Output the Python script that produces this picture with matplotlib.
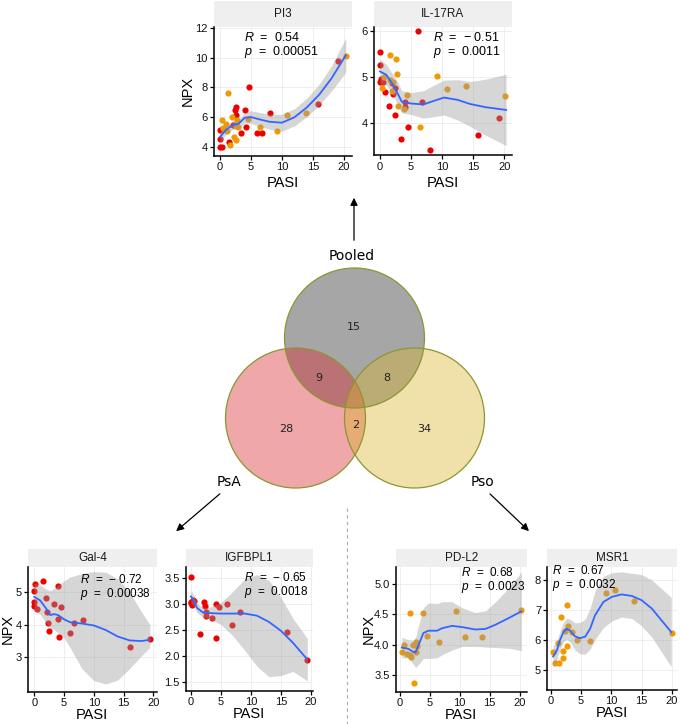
import matplotlib
matplotlib.use("Agg")
import matplotlib.pyplot as plt
from matplotlib.patches import Circle, Rectangle, FancyArrowPatch

plt.rcParams["font.family"] = "Liberation Sans"
plt.rcParams["mathtext.fontset"] = "custom"
plt.rcParams["mathtext.it"] = "Liberation Sans:italic"
plt.rcParams["mathtext.rm"] = "Liberation Sans"

W, H = 680, 724
RED = "#ee0000"
ORANGE = "#ee9a00"

# ---- pooled panels (red = PsA, orange = Pso) ----
pi3_red_x = [0, 0.25, 0, 0, 1.5, 2.4, 2.6, 2.5, 4.05, 4.6, 4.2, 3.4, 5.9, 6.7, 8.1, 15.8, 19.1, 2.1]
pi3_red_y = [3.96, 4.0, 4.5, 5.1, 4.35, 6.45, 6.7, 6.15, 6.45, 8.05, 5.35, 4.9, 4.95, 4.95, 6.27, 6.85, 9.75, 5.45]
pi3_or_x = [1.35, 0.25, 0.55, 1.9, 2.25, 2.5, 1.6, 2.8, 4.45, 6.4, 9.2, 10.8, 13.8, 20.3, 1.2, 2.9, 0.9, 2.6]
pi3_or_y = [7.6, 5.8, 5.25, 6.0, 4.65, 4.45, 4.1, 5.8, 5.85, 5.3, 5.05, 6.15, 6.3, 10.1, 5.05, 5.35, 5.5, 5.4]
pi3_fit_x = [0, 1, 2, 3, 4, 5, 6, 8, 10, 12, 14, 16, 18, 20.3]
pi3_fit_y = [4.66, 5.15, 5.45, 5.55, 5.95, 6.0, 5.88, 5.68, 5.62, 5.98, 6.64, 7.5, 8.6, 10.15]
pi3_fit_lo = [4.3, 4.87, 5.17, 5.25, 5.6, 5.58, 5.42, 5.18, 5.05, 5.4, 6.02, 6.8, 7.75, 9.0]
pi3_fit_hi = [5.02, 5.43, 5.73, 5.85, 6.3, 6.42, 6.34, 6.18, 6.19, 6.56, 7.26, 8.2, 9.45, 11.3]

il17_red_x = [6.05, 0, 0, 0, 0.15, 0.5, 0.8, 2.1, 2.0, 2.4, 4.0, 4.1, 6.7, 1.5, 2.45, 4.55, 3.4, 8.1, 15.8, 19.1]
il17_red_y = [6.0, 5.55, 5.26, 4.88, 4.95, 4.9, 4.68, 4.63, 4.86, 4.75, 4.45, 4.34, 4.45, 4.36, 4.17, 3.9, 3.64, 3.41, 3.74, 4.11]
il17_or_x = [1.6, 2.6, 2.7, 0.27, 1.6, 2.1, 1.9, 4.4, 2.85, 3.9, 6.4, 9.2, 10.8, 13.8, 20.2, 0.6]
il17_or_y = [5.48, 5.4, 5.07, 4.76, 4.93, 4.89, 4.69, 4.6, 4.36, 4.29, 3.91, 5.02, 4.73, 4.81, 4.58, 5.0]
il17_fit_x = [0, 1, 2, 3, 3.5, 5, 7, 8.5, 10.3, 12.5, 14.5, 17, 20.3]
il17_fit_y = [5.12, 5.05, 4.85, 4.6, 4.46, 4.42, 4.4, 4.47, 4.55, 4.5, 4.41, 4.34, 4.28]
il17_fit_lo = [4.86, 4.82, 4.63, 4.35, 4.22, 4.18, 4.1, 4.13, 4.17, 4.06, 3.92, 3.73, 3.5]
il17_fit_hi = [5.38, 5.28, 5.07, 4.85, 4.7, 4.66, 4.7, 4.81, 4.93, 4.94, 4.9, 4.95, 5.06]

# ---- PsA panels ----
gal4_x = [0.1, 0, 1.4, 4.0, 0, 0, 0.4, 2.0, 3.3, 4.5, 2.1, 2.35, 4.0, 6.7, 8.1, 2.4, 6.0, 4.1, 16.0, 19.4]
gal4_y = [5.25, 5.04, 5.34, 5.21, 4.71, 4.57, 4.5, 4.83, 4.63, 4.55, 4.38, 4.07, 4.18, 4.06, 4.14, 3.8, 3.76, 3.63, 3.31, 3.56]
gal4_fit_x = [0, 1, 2, 2.7, 3.3, 4, 5, 6, 8, 10, 12, 14, 16, 18, 19.4]
gal4_fit_y = [4.86, 4.75, 4.5, 4.3, 4.33, 4.3, 4.17, 4.08, 4.04, 3.98, 3.84, 3.64, 3.52, 3.5, 3.54]
gal4_fit_lo = [4.44, 4.32, 4.05, 3.9, 3.85, 3.75, 3.6, 3.3, 2.65, 2.28, 2.18, 2.3, 2.65, 3.05, 3.3]
gal4_fit_hi = [5.28, 5.22, 5.1, 5.05, 5.12, 5.22, 5.35, 5.47, 5.58, 5.64, 5.62, 5.42, 5.0, 4.4, 4.0]

igf_x = [0.05, 0.05, 0, 0.17, 0.55, 2.1, 2.3, 2.55, 2.55, 3.5, 4.15, 4.65, 6.05, 8.2, 6.9, 1.55, 4.15, 16.05, 19.4, 0.3]
igf_y = [3.51, 3.04, 3.01, 2.98, 3.06, 3.03, 2.95, 2.85, 2.77, 2.72, 2.99, 2.93, 3.0, 2.85, 2.6, 2.42, 2.34, 2.46, 1.92, 3.08]
igf_fit_x = [0, 0.5, 1, 2, 3, 5, 7, 9, 11, 13, 15, 17, 19.4]
igf_fit_y = [3.14, 3.05, 2.92, 2.83, 2.82, 2.81, 2.81, 2.81, 2.77, 2.65, 2.48, 2.25, 1.93]
igf_fit_lo = [3.02, 2.95, 2.83, 2.74, 2.71, 2.6, 2.38, 2.1, 1.8, 1.6, 1.62, 1.7, 1.52]
igf_fit_hi = [3.26, 3.15, 3.01, 2.92, 2.93, 3.02, 3.24, 3.48, 3.56, 3.45, 3.12, 2.72, 2.33]

# ---- Pso panels ----
pdl2_x = [0.3, 0.67, 1.6, 3.8, 2.1, 1.2, 1.85, 2.6, 2.7, 2.85, 2.4, 4.5, 6.5, 9.3, 10.8, 13.8, 20.3, 1.6]
pdl2_y = [3.87, 3.99, 4.52, 4.52, 4.0, 3.85, 3.8, 4.04, 3.88, 3.97, 3.36, 4.15, 4.05, 4.56, 4.12, 4.12, 4.57, 3.82]
pdl2_fit_x = [0.3, 1.4, 2.2, 2.6, 3.1, 3.9, 4.75, 6.2, 7, 8.7, 10.4, 12.6, 14.3, 16, 18.2, 20.3]
pdl2_fit_y = [3.95, 3.93, 3.88, 3.87, 3.99, 4.19, 4.23, 4.23, 4.27, 4.31, 4.29, 4.25, 4.26, 4.33, 4.44, 4.55]
pdl2_fit_lo = [3.78, 3.78, 3.68, 3.62, 3.67, 3.77, 3.77, 3.78, 3.83, 3.91, 3.97, 3.97, 3.96, 3.95, 3.94, 3.9]
pdl2_fit_hi = [4.12, 4.08, 4.08, 4.12, 4.31, 4.61, 4.69, 4.68, 4.71, 4.71, 4.61, 4.53, 4.56, 4.71, 4.94, 5.2]

msr1_x = [0.4, 0.66, 1.27, 1.43, 1.65, 2.04, 1.98, 2.64, 2.4, 2.9, 2.75, 3.47, 4.35, 6.5, 9.15, 10.6, 13.7, 20.1]
msr1_y = [5.62, 5.23, 5.9, 5.26, 6.77, 5.64, 5.41, 7.16, 6.3, 6.46, 5.82, 6.27, 6.01, 5.96, 7.58, 7.68, 7.3, 6.25]
msr1_fit_x = [0.4, 1, 1.5, 2.1, 2.6, 3.2, 4, 4.85, 5.7, 6.5, 7.3, 8.7, 10.1, 11.7, 13.4, 15, 16.7, 18.3, 19.9]
msr1_fit_y = [5.46, 5.65, 5.99, 6.27, 6.38, 6.32, 6.13, 6.07, 6.12, 6.38, 6.82, 7.27, 7.44, 7.52, 7.47, 7.33, 7.05, 6.66, 6.27]
msr1_fit_lo = [5.11, 5.35, 5.69, 5.95, 6.03, 5.94, 5.68, 5.55, 5.54, 5.7, 6.02, 6.42, 6.64, 6.77, 6.72, 6.48, 6.1, 5.61, 5.12]
msr1_fit_hi = [5.81, 5.95, 6.29, 6.59, 6.73, 6.7, 6.58, 6.59, 6.7, 7.06, 7.62, 8.12, 8.24, 8.27, 8.22, 8.18, 8.0, 7.71, 7.42]

# ---- Venn ----
venn_sets = ["Pooled", "PsA", "Pso"]
venn_counts = ["15", "9", "8", "28", "2", "34"]

fig = plt.figure(figsize=(W / 100, H / 100), dpi=100)

# overlay axes in pixel coordinates (Venn, arrows, separator)
ov = fig.add_axes([0, 0, 1, 1], zorder=0)
ov.set_xlim(0, W)
ov.set_ylim(H, 0)
ov.axis("off")

circ = [((354.5, 338), "#212121"), ((295.5, 418), "#d9252a"), ((414.5, 418), "#d9b62a")]
for (c, col) in circ:
    ov.add_patch(Circle(c, 70, facecolor=col, alpha=0.4, edgecolor="none"))
for (c, col) in circ:
    ov.add_patch(Circle(c, 70, facecolor="none", edgecolor="#8c9630", lw=0.9))
count_pos = [(354, 327), (319, 378), (387, 378), (286, 429), (356, 425), (424, 429)]
for txt, (x, y) in zip(venn_counts, count_pos):
    ov.text(x, y, txt, ha="center", va="center", fontsize=8, family="DejaVu Sans", color="#222222")
set_pos = [(352, 256), (229, 482), (482, 482)]
for txt, (x, y) in zip(venn_sets, set_pos):
    ov.text(x, y, txt, ha="center", va="center", fontsize=10, family="DejaVu Sans")

for a, b in [((354, 243), (354, 195)), ((222, 492), (174, 533)), ((488, 492), (531, 533))]:
    ov.add_patch(FancyArrowPatch(a, b, arrowstyle="-|>", mutation_scale=11, lw=0.9, color="black"))
ov.plot([347, 347], [508, 724], ls=(0, (3, 3)), color="#aaaaaa", lw=0.8)


def draw_panel(box, strip_h, title, series, fit, xlim, ylim, yticks, yfmt,
               stat, stat_xy, stat_fs, ylab_x=None, xlab_y=-0.17):
    x0, y0, x1, y1 = box
    ax = fig.add_axes([x0 / W, 1 - y1 / H, (x1 - x0) / W, (y1 - y0) / H], zorder=2)
    for xs, ys, col in series:
        ax.scatter(xs, ys, s=20, color=col, linewidths=0, zorder=2)
    fx, fy, flo, fhi = fit
    ax.fill_between(fx, flo, fhi, color="#999999", alpha=0.4, linewidth=0, zorder=3)
    ax.plot(fx, fy, color="#3366ff", lw=1.3, zorder=4)
    ax.set_xlim(*xlim)
    ax.set_ylim(*ylim)
    ax.set_xticks([0, 5, 10, 15, 20])
    ax.set_yticks(yticks)
    ax.set_yticklabels([yfmt.format(v) for v in yticks])
    ax.grid(color="#ebebeb", lw=0.6)
    ax.set_axisbelow(True)
    for s in ["top", "right"]:
        ax.spines[s].set_visible(False)
    for s in ["left", "bottom"]:
        ax.spines[s].set_linewidth(1.1)
    ax.tick_params(length=3, width=0.9, labelsize=8, pad=1.5, labelcolor="#111111")
    hfrac = strip_h / (y1 - y0)
    ax.add_patch(Rectangle((0, 1), 1, hfrac, transform=ax.transAxes, facecolor="#efefef",
                           edgecolor="none", clip_on=False))
    ax.text(0.5, 1 + hfrac / 2, title, transform=ax.transAxes, ha="center", va="center",
            fontsize=8.5, color="#1a1a1a")
    ax.text(stat_xy[0], stat_xy[1], stat[0] + "\n" + stat[1], transform=ax.transAxes,
            fontsize=stat_fs, ha="left", va="center", linespacing=1.0, zorder=5)
    ax.set_xlabel("PASI", fontsize=10.5)
    ax.xaxis.set_label_coords(0.5, xlab_y)
    if ylab_x is not None:
        ax.set_ylabel("NPX", fontsize=10.5)
        ax.yaxis.set_label_coords(ylab_x, 0.5)
    return ax


MINUS = "\u2212"
EQ = "  =  "
draw_panel((213.7, 27, 352, 155.7), 26, "PI3",
           [(pi3_red_x, pi3_red_y, RED), (pi3_or_x, pi3_or_y, ORANGE)],
           (pi3_fit_x, pi3_fit_y, pi3_fit_lo, pi3_fit_hi),
           (-1.02, 21.3), (3.4, 12.05), [4, 6, 8, 10, 12], "{:g}",
           ("$R$" + EQ + "0.54", "$p$" + EQ + "0.00051"), (0.22, 0.857), 9,
           ylab_x=-0.14, xlab_y=-0.16)
draw_panel((374, 27, 511.7, 155.3), 26, "IL-17RA",
           [(il17_red_x, il17_red_y, RED), (il17_or_x, il17_or_y, ORANGE)],
           (il17_fit_x, il17_fit_y, il17_fit_lo, il17_fit_hi),
           (-0.96, 21.2), (3.29, 6.09), [4, 5, 6], "{:g}",
           ("$R$" + EQ + MINUS + " 0.51", "$p$" + EQ + "0.0011"), (0.43, 0.857), 9,
           xlab_y=-0.16)
draw_panel((27.7, 566.7, 157, 691.7), 18, "Gal-4",
           [(gal4_x, gal4_y, RED)],
           (gal4_fit_x, gal4_fit_y, gal4_fit_lo, gal4_fit_hi),
           (-1.1, 20.6), (1.94, 5.79), [3, 4, 5], "{:g}",
           ("$R$" + EQ + MINUS + " 0.72", "$p$" + EQ + "0.00038"), (0.405, 0.835), 8.5,
           ylab_x=-0.1, xlab_y=-0.128)
draw_panel((185.7, 566.7, 312.7, 690.7), 18, "IGFBPL1",
           [(igf_x, igf_y, RED)],
           (igf_fit_x, igf_fit_y, igf_fit_lo, igf_fit_hi),
           (-0.88, 20.3), (1.33, 3.71), [1.5, 2.0, 2.5, 3.0, 3.5], "{:.1f}",
           ("$R$" + EQ + MINUS + " 0.65", "$p$" + EQ + "0.0018"), (0.459, 0.848), 8.5,
           xlab_y=-0.128)
draw_panel((395.7, 566.7, 526.7, 691.7), 18, "PD-L2",
           [(pdl2_x, pdl2_y, ORANGE)],
           (pdl2_fit_x, pdl2_fit_y, pdl2_fit_lo, pdl2_fit_hi),
           (-0.72, 21.2), (3.22, 5.29), [3.5, 4.0, 4.5, 5.0], "{:.1f}",
           ("$R$" + EQ + "0.68", "$p$" + EQ + "0.0023"), (0.498, 0.887), 8.5,
           ylab_x=-0.15, xlab_y=-0.128)
draw_panel((547.3, 566.7, 676.7, 690), 18, "MSR1",
           [(msr1_x, msr1_y, ORANGE)],
           (msr1_fit_x, msr1_fit_y, msr1_fit_lo, msr1_fit_hi),
           (-0.56, 20.8), (4.35, 8.44), [5, 6, 7, 8], "{:g}",
           ("$R$" + EQ + "0.67", "$p$" + EQ + "0.0032"), (0.039, 0.908), 8.5,
           xlab_y=-0.128)

fig.savefig("out.png", dpi=100)
